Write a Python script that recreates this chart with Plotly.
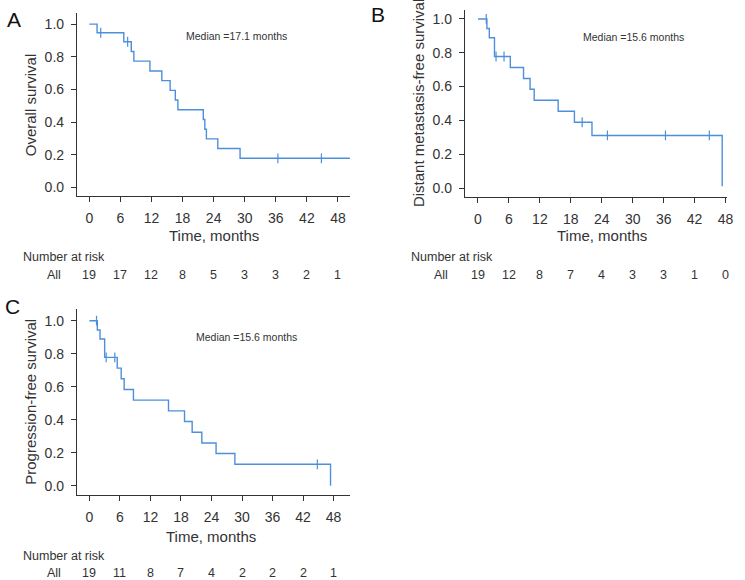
import plotly.graph_objects as go

W, H = 745, 580

# ---- Data ----
A_times = [0, 1.5, 6.65, 8.1, 8.6, 11.7, 14.0, 15.6, 16.6, 17.1, 22.0, 22.3, 22.6, 24.8, 29.1, 50.3]
A_surv = [1.0, 0.947, 0.892, 0.832, 0.773, 0.713, 0.654, 0.594, 0.535, 0.475, 0.416, 0.356, 0.297, 0.238, 0.178, 0.178]
A_cens_t = [2.2, 7.4, 36.4, 44.8]
A_cens_s = [0.947, 0.892, 0.178, 0.178]
A_risk = [19, 17, 12, 8, 5, 3, 3, 2, 1]

B_times = [0, 1.73, 2.2, 3.2, 6.27, 8.83, 10.1, 10.9, 15.55, 18.7, 22.1, 47.35]
B_surv = [1.0, 0.944, 0.889, 0.778, 0.713, 0.648, 0.584, 0.519, 0.454, 0.389, 0.311, 0.01]
B_cens_t = [1.6, 3.5, 5.05, 20.2, 25.1, 36.35, 44.85]
B_cens_s = [1.0, 0.778, 0.778, 0.389, 0.311, 0.311, 0.311]
B_risk = [19, 12, 8, 7, 4, 3, 3, 1, 0]

C_times = [0, 1.56, 2.09, 3.0, 5.47, 6.25, 6.83, 8.66, 15.55, 18.7, 20.2, 22.1, 24.9, 28.6, 47.4]
C_surv = [1.0, 0.944, 0.889, 0.778, 0.713, 0.648, 0.583, 0.519, 0.454, 0.389, 0.324, 0.259, 0.195, 0.130, 0.0]
C_cens_t = [1.4, 3.3, 5.0, 44.8]
C_cens_s = [1.0, 0.778, 0.778, 0.130]
C_risk = [19, 11, 8, 7, 4, 2, 2, 2, 1]

x_ticks = [0, 6, 12, 18, 24, 30, 36, 42, 48]
y_ticks = [0.0, 0.2, 0.4, 0.6, 0.8, 1.0]
y_tick_text = ["0.0", "0.2", "0.4", "0.6", "0.8", "1.0"]

panels = [
    dict(label="A", ytitle="Overall survival", median="Median =17.1 months",
         t=A_times, s=A_surv, ct=A_cens_t, cs=A_cens_s, risk=A_risk),
    dict(label="B", ytitle="Distant metastasis-free survival", median="Median =15.6 months",
         t=B_times, s=B_surv, ct=B_cens_t, cs=B_cens_s, risk=B_risk),
    dict(label="C", ytitle="Progression-free survival", median="Median =15.6 months",
         t=C_times, s=C_surv, ct=C_cens_t, cs=C_cens_s, risk=C_risk),
]

# ---- Layout geometry (pixels) ----
geo = [
    dict(x0=77.5, x1=353, y0=13, y1=196, xr=[-2.4, 50.35], yr=[-0.053, 1.068],
         lab=(14, 20), med=(238, 36), ytit=31, xtit=236, nar=257, allx=54, ally=275, narx=21),
    dict(x0=468.5, x1=733, y0=10, y1=197, xr=[-2.57, 48.3], yr=[-0.053, 1.053],
         lab=(381, 14), med=(639, 37), ytit=422, xtit=236, nar=257, allx=445, ally=275, narx=412),
    dict(x0=77.5, x1=352.7, y0=309, y1=495, xr=[-2.46, 51.2], yr=[-0.056, 1.071],
         lab=(13, 306), med=(248, 337), ytit=31, xtit=536, nar=556, allx=54, ally=573, narx=21),
]

LINE = "#4d8fdb"
AX = "#333333"
FONT = "Liberation Sans, Arial, Helvetica, sans-serif"

fig = go.Figure()
annotations = []
layout = {}

def px2x(p):
    return p / W

def px2y(p):
    return 1 - p / H

for i, (p, g) in enumerate(zip(panels, geo)):
    n = i + 1
    xa = "x" if n == 1 else f"x{n}"
    ya = "y" if n == 1 else f"y{n}"
    xkey = "xaxis" if n == 1 else f"xaxis{n}"
    ykey = "yaxis" if n == 1 else f"yaxis{n}"

    fig.add_trace(go.Scatter(x=p["t"], y=p["s"], mode="lines", line=dict(color=LINE, width=1.4, shape="hv"),
                             xaxis=xa, yaxis=ya, showlegend=False, hoverinfo="skip"))
    fig.add_trace(go.Scatter(x=p["ct"], y=p["cs"], mode="markers",
                             marker=dict(symbol="line-ns-open", size=7, color=LINE,
                                         line=dict(color=LINE, width=1.2)),
                             xaxis=xa, yaxis=ya, showlegend=False, hoverinfo="skip"))

    layout[xkey] = dict(domain=[px2x(g["x0"]), px2x(g["x1"])], range=g["xr"], anchor=ya,
                        showline=True, linecolor=AX, linewidth=1, ticks="outside", ticklen=5,
                        tickcolor=AX, tickwidth=1, tickvals=x_ticks, showgrid=False, zeroline=False,
                        ticklabelstandoff=4,
                        tickfont=dict(family=FONT, size=14, color=AX))
    layout[ykey] = dict(domain=[px2y(g["y1"]), px2y(g["y0"])], range=g["yr"], anchor=xa,
                        showline=True, linecolor=AX, linewidth=1, ticks="outside", ticklen=5,
                        tickcolor=AX, tickwidth=1, tickvals=y_ticks, ticktext=y_tick_text,
                        ticklabelstandoff=4,
                        showgrid=False, zeroline=False, tickfont=dict(family=FONT, size=14, color=AX))

    # panel letter
    annotations.append(dict(text=p["label"], x=px2x(g["lab"][0]), y=px2y(g["lab"][1]), xref="paper",
                            yref="paper", showarrow=False, xanchor="center", yanchor="middle",
                            font=dict(family=FONT, size=21, color="#111111")))
    # median
    annotations.append(dict(text=p["median"], x=px2x(g["med"][0]), y=px2y(g["med"][1]), xref="paper",
                            yref="paper", showarrow=False, xanchor="center", yanchor="middle",
                            font=dict(family=FONT, size=10.5, color=AX)))
    # y title
    annotations.append(dict(text=p["ytitle"], x=px2x(g["ytit"]), y=(px2y(g["y0"]) + px2y(g["y1"])) / 2,
                            xref="paper", yref="paper", showarrow=False, textangle=-90,
                            xanchor="center", yanchor="middle", font=dict(family=FONT, size=15, color=AX)))
    # x title
    annotations.append(dict(text="Time, months", x=24, y=px2y(g["xtit"]), xref=xa, yref="paper",
                            showarrow=False, xanchor="center", yanchor="middle",
                            font=dict(family=FONT, size=15, color=AX)))
    # number at risk
    annotations.append(dict(text="Number at risk", x=px2x(g["narx"]), y=px2y(g["nar"]), xref="paper",
                            yref="paper", showarrow=False, xanchor="left", yanchor="middle",
                            font=dict(family=FONT, size=12.5, color=AX)))
    annotations.append(dict(text="All", x=px2x(g["allx"]), y=px2y(g["ally"]), xref="paper",
                            yref="paper", showarrow=False, xanchor="center", yanchor="middle",
                            font=dict(family=FONT, size=12.5, color=AX)))
    for xv, r in zip(x_ticks, p["risk"]):
        annotations.append(dict(text=str(r), x=xv, y=px2y(g["ally"]), xref=xa, yref="paper",
                                showarrow=False, xanchor="center", yanchor="middle",
                                font=dict(family=FONT, size=12.5, color=AX)))

fig.update_layout(width=W, height=H, margin=dict(l=0, r=0, t=0, b=0), paper_bgcolor="white",
                  plot_bgcolor="white", annotations=annotations, **layout)

fig.write_html("out.html", config={"displayModeBar": False},
               post_script="document.body.style.margin='0px';document.body.style.overflow='hidden';")
